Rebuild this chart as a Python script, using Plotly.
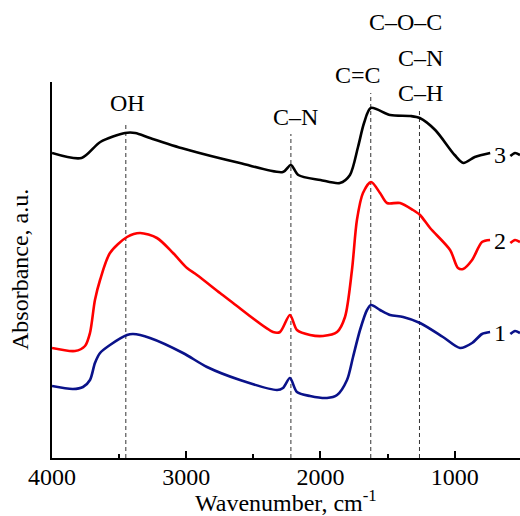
import plotly.graph_objects as go

# ---- data ----
wn3 = [4000, 3780, 3640, 3455, 3380, 3270, 3010, 2600, 2280, 2220, 2165, 2000,
       1855, 1780, 1720, 1675, 1625, 1480, 1330, 1260, 1145, 1000, 935, 850, 735]
abs3 = [3.05, 3.00, 3.16, 3.25, 3.25, 3.20, 3.09, 2.95, 2.86, 2.93, 2.83, 2.78,
        2.75, 2.83, 3.11, 3.35, 3.50, 3.43, 3.42, 3.40, 3.28, 3.03, 2.95, 3.01, 3.05]

wn2 = [4000, 3829, 3754, 3717, 3680, 3642, 3568, 3441, 3344, 3218, 3098, 2994, 2920,
       2748, 2651, 2353, 2301, 2227, 2175, 2077, 1981, 1876, 1817, 1765, 1728, 1683,
       1623, 1556, 1504, 1407, 1310, 1258, 1183, 1034, 975, 937, 870, 796, 736]
abs2 = [1.10, 1.07, 1.12, 1.25, 1.58, 1.78, 2.05, 2.21, 2.25, 2.20, 2.05, 1.90, 1.83,
        1.65, 1.55, 1.26, 1.26, 1.43, 1.28, 1.23, 1.22, 1.26, 1.41, 1.88, 2.38, 2.65,
        2.76, 2.65, 2.55, 2.55, 2.48, 2.43, 2.30, 2.08, 1.90, 1.89, 1.98, 2.16, 2.18]

wn1 = [4000, 3844, 3769, 3717, 3680, 3642, 3568, 3441, 3396, 3270, 3024, 2845, 2599,
       2323, 2279, 2227, 2175, 2077, 1951, 1876, 1802, 1757, 1705, 1653, 1623, 1556,
       1481, 1384, 1258, 1087, 960, 870, 796, 736]
abs1 = [0.72, 0.69, 0.71, 0.78, 0.95, 1.05, 1.13, 1.23, 1.24, 1.20, 1.05, 0.91, 0.78,
        0.68, 0.70, 0.80, 0.66, 0.62, 0.60, 0.63, 0.78, 1.01, 1.28, 1.48, 1.53, 1.48,
        1.43, 1.41, 1.35, 1.21, 1.10, 1.15, 1.24, 1.26]

# short pieces of the curves past the curve numbers
wn_tail = [585, 550, 513]
tail3 = [3.02, 3.05, 3.03]
tail2 = [2.15, 2.18, 2.16]
tail1 = [1.24, 1.27, 1.25]

curve_labels = ["1", "2", "3"]
label_wn = 662
label_abs = [1.25, 2.17, 3.03]

band_wn = [3450, 2220, 1625, 1262]
band_top = [3.36, 3.24, 3.65, 3.50]

x_ticks = [4000, 3000, 2000, 1000]

FONT = "Liberation Serif, Times New Roman, serif"
colors = {"1": "#0a128a", "2": "#ff0000", "3": "#000000"}

fig = go.Figure()
for name, wn, ab, tail in [("3", wn3, abs3, tail3), ("2", wn2, abs2, tail2), ("1", wn1, abs1, tail1)]:
    fig.add_trace(go.Scatter(x=wn, y=ab, mode="lines",
                             line=dict(color=colors[name], width=2.6, shape="spline", smoothing=0.8),
                             showlegend=False, hoverinfo="skip"))
    fig.add_trace(go.Scatter(x=wn_tail, y=tail, mode="lines",
                             line=dict(color=colors[name], width=2.6, shape="spline", smoothing=0.8),
                             showlegend=False, hoverinfo="skip"))

for lab, ya in zip(curve_labels, label_abs):
    fig.add_annotation(x=label_wn, y=ya, text=lab, showarrow=False,
                       font=dict(family=FONT, size=24, color="black"),
                       xanchor="center", yanchor="middle")

for w, top in zip(band_wn, band_top):
    fig.add_shape(type="line", x0=w, x1=w, y0=0, y1=top, xref="x", yref="y",
                  line=dict(color="#333333", width=1, dash="4px,3px"), layer="below")

# band labels placed in paper coordinates (some sit above the plot area)
band_text = [("OH", 127, 103), ("C–N", 295, 117), ("C=C", 358, 75),
             ("C–O–C", 405, 22), ("C–N", 420, 58), ("C–H", 420, 93)]
for t, px, py in band_text:
    fig.add_annotation(xref="paper", yref="paper",
                       x=(px - 52) / 468, y=(458 - py) / 376, text=t, showarrow=False,
                       font=dict(family=FONT, size=24, color="black"),
                       xanchor="center", yanchor="middle")

fig.add_annotation(xref="paper", yref="paper", x=(20 - 52) / 468, y=0.5,
                   text="Absorbance, a.u.", textangle=-90, showarrow=False,
                   font=dict(family=FONT, size=24, color="black"),
                   xanchor="center", yanchor="middle")
fig.add_annotation(xref="paper", yref="paper", x=0.5, y=(458 - 501) / 376,
                   text="Wavenumber, cm<sup>-1</sup>", showarrow=False,
                   font=dict(family=FONT, size=24, color="black"),
                   xanchor="center", yanchor="middle")

fig.update_layout(
    width=520, height=516,
    margin=dict(l=52, r=0, t=82, b=58),
    paper_bgcolor="white", plot_bgcolor="white",
    xaxis=dict(range=[4000, 513], showgrid=False, zeroline=False,
               showline=True, linecolor="black", linewidth=1.5,
               tickvals=x_ticks, ticks="inside", ticklen=7, tickwidth=1.5, tickcolor="black",
               ticklabelstandoff=-4,
               tickfont=dict(family=FONT, size=24, color="black"),
               minor=dict(dtick=500, tick0=0, ticks="inside", ticklen=4, tickwidth=1.5, tickcolor="black")),
    yaxis=dict(range=[0, 3.76], showgrid=False, zeroline=False,
               showline=True, linecolor="black", linewidth=1.5,
               showticklabels=False, ticks=""),
)

fig.write_html("out.html")
